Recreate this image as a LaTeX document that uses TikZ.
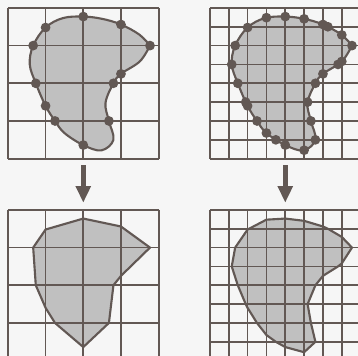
\documentclass[tikz,border=0pt]{standalone}
\usepackage{tikz}
\usetikzlibrary{arrows.meta, intersections}
\definecolor{InkGrey}{RGB}{98,88,84}
\definecolor{ShadeGrey}{RGB}{192,192,192}
\definecolor{PaperGrey}{RGB}{246,246,246}

% the outline of the region, in cell units (y pointing down)
\newcommand{\blobpath}{plot[smooth, tension=0.6] coordinates {
  (3.77,1) (3.5,1.42) (3,1.75) (2.8,2) (2.59,2.52) (2.68,3)
  (2.8,3.5) (2.48,3.78) (2,3.64) (1.5,3.32) (1.25,3) (1,2.6)
  (0.74,2) (0.58,1.5) (0.67,1) (1,0.52) (1.46,0.27) (2,0.23)
  (2.5,0.29) (3,0.44) (3.49,0.71) (3.77,1)} -- cycle}

\begin{document}
\begin{tikzpicture}[
    gridline/.style={InkGrey, line width=1.3pt},
    outline/.style={InkGrey, line width=1.6pt, line join=round},
    dot/.style={circle, fill=InkGrey, inner sep=0pt, minimum size=2.6mm},
    arr/.style={-{Triangle[length=4.4mm,width=3.8mm]}, InkGrey, line width=3.5pt}
  ]
  \useasboundingbox (0,0) rectangle (9.5,-9.44);
  \fill[PaperGrey] (0,0) rectangle (9.5,-9.44);
  \clip (0,0) rectangle (9.5,-9.44);

  % top left: coarse grid, samples where the outline crosses it
  \begin{scope}[shift={(0.21,-0.21)}, yscale=-1]
    \fill[ShadeGrey] \blobpath;
    \draw[gridline] (0,0) grid (4,4);
    \draw[outline, name path=tlblob] \blobpath;
    \path[name path=tlgrid] (0,0) grid (4,4);
    \path[name intersections={of=tlblob and tlgrid, name=tl, total=\t}]
      foreach \k in {1,...,\t} {(tl-\k) node[dot] (tldot\k) {}};
  \end{scope}

  % top right: fine grid
  \begin{scope}[shift={(5.57,-0.21)}, yscale=-1]
    \fill[ShadeGrey] \blobpath;
    \draw[gridline] (0,0) grid[step=0.5] (4,4);
    \draw[outline, name path=trblob] \blobpath;
    \path[name path=trgrid] (0,0) grid[step=0.5] (4,4);
    \path[name intersections={of=trblob and trgrid, name=tr, total=\t}]
      foreach \k in {1,...,\t} {(tr-\k) node[dot] (trdot\k) {}};
  \end{scope}

  % bottom left: polygon through the coarse samples
  \begin{scope}[shift={(0.21,-5.57)}, yscale=-1]
    \path[name path=blblob] \blobpath;
    \path[name path=blgrid] (0,0) grid (4,4);
    \path[name intersections={of=blblob and blgrid, sort by=blblob, name=bl, total=\t}]
      \pgfextra{\xdef\nbl{\t}};
    \fill[ShadeGrey] (bl-1) foreach \k in {2,...,\nbl} {-- (bl-\k)} -- cycle;
    \draw[gridline] (0,0) grid (4,4);
    \draw[outline] (bl-1) foreach \k in {2,...,\nbl} {-- (bl-\k)} -- cycle;
  \end{scope}

  % bottom right: polygon through the fine samples
  \begin{scope}[shift={(5.57,-5.57)}, yscale=-1]
    \path[name path=brblob] \blobpath;
    \path[name path=brgrid] (0,0) grid[step=0.5] (4,4);
    \path[name intersections={of=brblob and brgrid, sort by=brblob, name=br, total=\t}]
      \pgfextra{\xdef\nbr{\t}};
    \fill[ShadeGrey] (br-1) foreach \k in {2,...,\nbr} {-- (br-\k)} -- cycle;
    \draw[gridline] (0,0) grid[step=0.5] (4,4);
    \draw[outline] (br-1) foreach \k in {2,...,\nbr} {-- (br-\k)} -- cycle;
  \end{scope}

  \coordinate (ltop) at (2.21,-4.38);
  \coordinate (lbot) at (2.21,-5.38);
  \coordinate (rtop) at (7.57,-4.38);
  \coordinate (rbot) at (7.57,-5.38);
  \draw[arr] (ltop) -- (lbot);
  \draw[arr] (rtop) -- (rbot);
\end{tikzpicture}
\end{document}
